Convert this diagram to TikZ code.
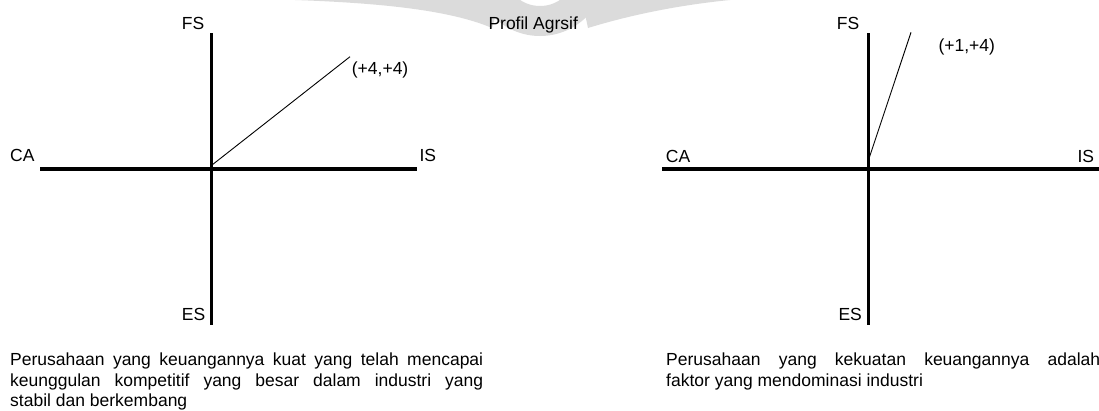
\documentclass[tikz,border=0pt]{standalone}
\usepackage{fontspec}
\setmainfont{Liberation Sans}
\begin{document}
\begin{tikzpicture}[x=1pt,y=-1pt,
  axisline/.style={line width=3.4pt},
  vecline/.style={line width=0.9pt},
  lbl/.style={inner sep=0pt, anchor=base west, font=\fontsize{17.5}{20.8}\selectfont},
  para/.style={inner sep=0pt, anchor=north west, align=justify,
               font=\fontsize{17.5}{20.3}\selectfont},
  emblem/.style={fill=black!14, draw=none}]
\useasboundingbox (0,0) rectangle (1099,410);

% faint emblem in the background, top centre
\fill[emblem, even odd rule] (540,-30) circle (66) (540,-30) circle (36);
\fill[emblem] (295,0) .. controls (380,3) and (450,10) .. (492,28) -- (500,0) -- cycle;
\fill[emblem] (582,0) -- (588,28) .. controls (640,12) and (690,4) .. (730,0) -- cycle;

\node[lbl] (title) at (488.3,29.3) {Profil Agrsif};

% ---- left profile
\coordinate (top1) at (211.7,33.3);
\coordinate (bot1) at (211.7,325);
\coordinate (lft1) at (40,169);
\coordinate (rgt1) at (416.7,169);
\coordinate (v1s) at (212,165);
\coordinate (v1e) at (350,56.7);
\draw[axisline] (top1) -- (bot1);
\draw[axisline] (lft1) -- (rgt1);
\draw[vecline] (v1s) -- (v1e);
\node[lbl] (fs1) at (181.7,29.3) {FS};
\node[lbl] (es1) at (181.7,320) {ES};
\node[lbl] (ca1) at (10,161.7) {CA};
\node[lbl] (is1) at (419.3,161.7) {IS};
\node[lbl] (pt1) at (351.7,74.5) {(+4,+4)};
\node[para, text width=473pt] (txt1) at (10,353)
  {Perusahaan yang keuangannya kuat yang telah mencapai\linebreak
   keunggulan kompetitif yang besar dalam industri yang\linebreak
   stabil dan berkembang};

% ---- right profile
\coordinate (top2) at (868.3,33.3);
\coordinate (bot2) at (868.3,325);
\coordinate (lft2) at (662.2,169);
\coordinate (rgt2) at (1110,169);
\coordinate (v2s) at (868.5,160);
\coordinate (v2e) at (911,32.3);
\draw[axisline] (top2) -- (bot2);
\draw[axisline] (lft2) -- (rgt2);
\draw[vecline] (v2s) -- (v2e);
\node[lbl] (fs2) at (836.7,29.3) {FS};
\node[lbl] (es2) at (838.3,320) {ES};
\node[lbl] (ca2) at (665.7,162) {CA};
\node[lbl] (is2) at (1077.3,162) {IS};
\node[lbl] (pt2) at (938.3,51) {(+1,+4)};
\node[para, text width=434pt] (txt2) at (666,353)
  {Perusahaan yang kekuatan keuangannya adalah\linebreak
   faktor yang mendominasi industri};
\end{tikzpicture}
\end{document}
